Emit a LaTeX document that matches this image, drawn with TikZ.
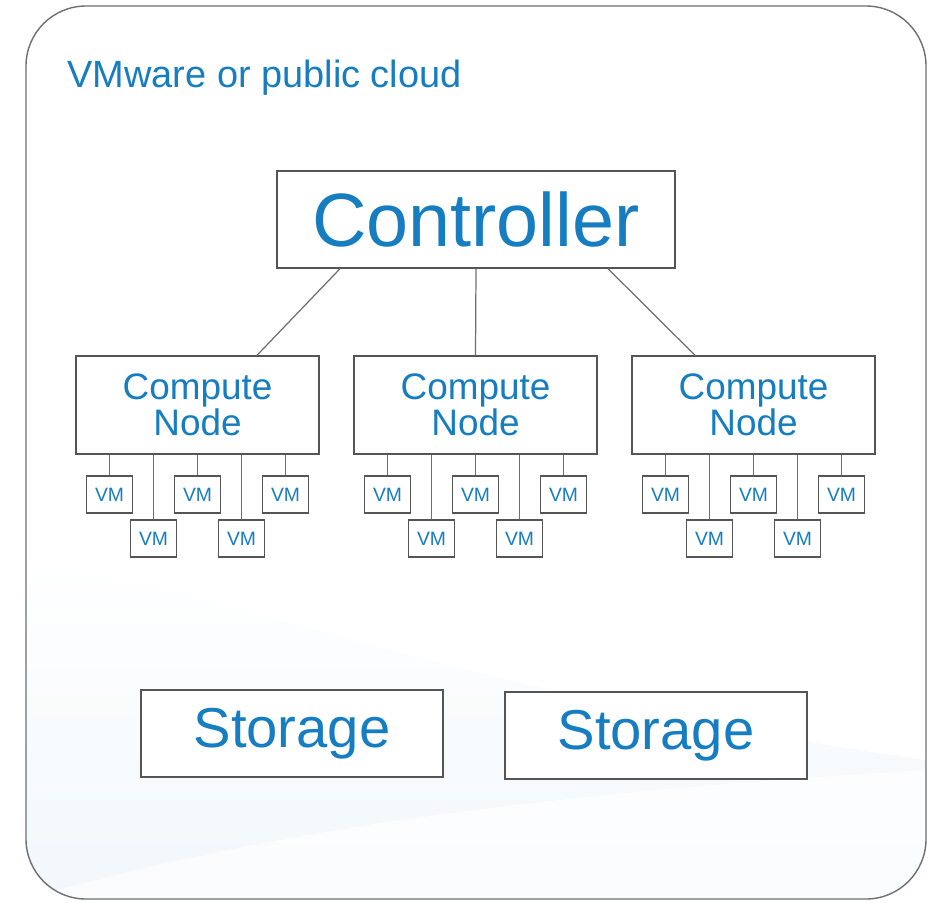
\documentclass[tikz,border=0pt]{standalone}
\usepackage{fontspec}
\setmainfont{Liberation Sans}
\usetikzlibrary{positioning}

\definecolor{cloudblue}{RGB}{22,125,192}
\definecolor{wiregray}{RGB}{110,110,110}
\definecolor{boxgray}{RGB}{85,85,85}

\tikzset{
    unitbox/.style={draw=boxgray, line width=0.8pt, fill=white, text=cloudblue, inner sep=0pt},
    vmbox/.style={unitbox, minimum width=0.92cm, minimum height=0.74cm, font=\fontsize{11}{12}\selectfont},
    wire/.style={draw=wiregray, line width=0.7pt}
}

\begin{document}
\begin{tikzpicture}[x=0.02cm, y=-0.02cm]
    \useasboundingbox (0,0) rectangle (939,902);
    % faint background swoosh
    \begin{scope}
        \clip[rounded corners=1.2cm] (26,6) rectangle (926,899);
        \shade[top color=white, bottom color=cloudblue!6] (26,560) .. controls (250,600) and (500,700) .. (926,760) -- (926,899) -- (26,899) -- cycle;
        \fill[white, opacity=0.7] (26,899) .. controls (300,820) and (600,790) .. (926,770) -- (926,899) -- cycle;
    \end{scope}
    \draw[draw=wiregray, line width=0.8pt, rounded corners=1.2cm] (26,6) rectangle (926,899);
    \node[anchor=base west, inner sep=0pt, text=cloudblue, font=\fontsize{21.6}{24}\selectfont] (title) at (67,88) {VMware or public cloud};

    % controller and compute nodes
    \node[unitbox, minimum width=7.96cm, minimum height=1.94cm, font=\fontsize{43}{46}\selectfont] (ctrl) at (476,219.5) {Controller};
    \foreach \i/\x in {1/197.5, 2/475.5, 3/753.5}
        \node[unitbox, minimum width=4.86cm, minimum height=1.96cm, align=center, font=\fontsize{21}{18.1}\selectfont] (cn\i) at (\x,405) {Compute\\Node};
    \draw[wire] ([xshift=-2.72cm]ctrl.south) -- ([xshift=1.19cm]cn1.north);
    \draw[wire] (ctrl.south) -- (cn2.north);
    \draw[wire] ([xshift=2.64cm]ctrl.south) -- ([xshift=-1.17cm]cn3.north);

    % virtual machines
    \foreach \i in {1,2,3} {
        \foreach \k/\dx/\y in {a/-88/494.5, b/-44/538.5, c/0/494.5, d/44/538.5, e/88/494.5} {
            \node[vmbox] (vm\i\k) at ([xshift=\dx*0.02cm]cn\i.south |- 0,\y) {VM};
            \draw[wire] (vm\i\k.north |- cn\i.south) -- (vm\i\k.north);
        }
    }

    % storage
    \node[unitbox, minimum width=6.04cm, minimum height=1.74cm, font=\fontsize{32}{34}\selectfont] (store1) at (292,733.5) {Storage};
    \node[unitbox, minimum width=6.04cm, minimum height=1.74cm, font=\fontsize{32}{34}\selectfont] (store2) at (656,735.5) {Storage};
\end{tikzpicture}
\end{document}
